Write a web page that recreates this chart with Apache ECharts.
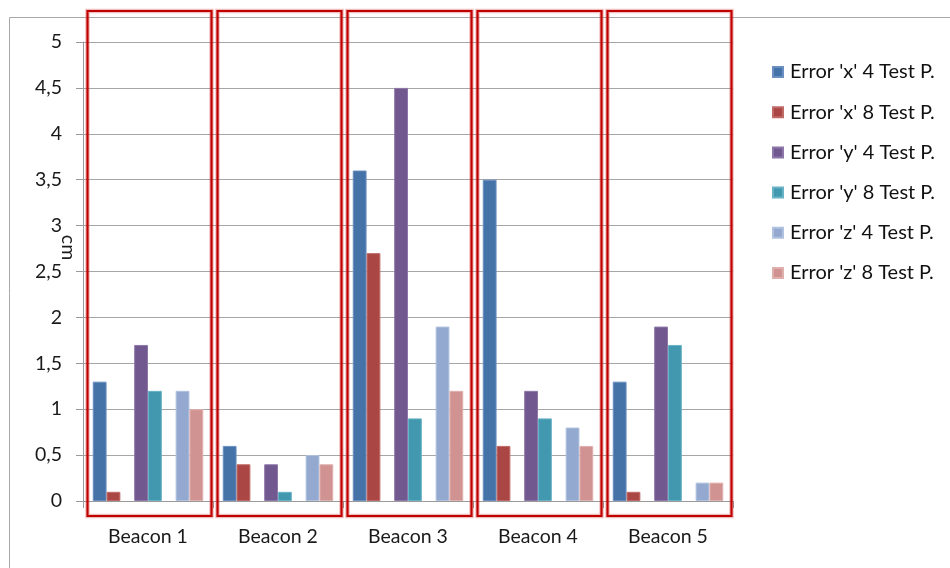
<!DOCTYPE html>
<html>
<head>
<meta charset="utf-8">
<style>
  html, body { margin: 0; padding: 0; background: #fff; }
  #chart { width: 950px; height: 568px; }
</style>
<script src="https://cdn.jsdelivr.net/npm/echarts@6/dist/echarts.min.js"></script>
</head>
<body>
<div id="chart"></div>
<script>
// Beacon positioning error per axis, 4 vs 8 test points (cm)
const categories = ['Beacon 1', 'Beacon 2', 'Beacon 3', 'Beacon 4', 'Beacon 5'];
const seriesNames = [
  "Error 'x' 4 Test P.", "Error 'x' 8 Test P.",
  "Error 'y' 4 Test P.", "Error 'y' 8 Test P.",
  "Error 'z' 4 Test P.", "Error 'z' 8 Test P."
];
const errX4 = [1.3, 0.6, 3.6, 3.5, 1.3];
const errX8 = [0.1, 0.4, 2.7, 0.6, 0.1];
const errY4 = [1.7, 0.4, 4.5, 1.2, 1.9];
const errY8 = [1.2, 0.1, 0.9, 0.9, 1.7];
const errZ4 = [1.2, 0.5, 1.9, 0.8, 0.2];
const errZ8 = [1.0, 0.4, 1.2, 0.6, 0.2];
const yTicks = [0, 0.5, 1, 1.5, 2, 2.5, 3, 3.5, 4, 4.5, 5];

const colors = ['#4572A7', '#AA4643', '#71588F', '#4198AF', '#93A9CF', '#D19392'];
const edges  = ['#6b8fc0', '#c06a67', '#8d77a8', '#68b2c6', '#b0c2df', '#e0b0af'];
const FONT = 'Lato, "Open Sans", sans-serif';
const FS = 19.5;

function barSeries(idx, values) {
  return {
    name: seriesNames[idx], type: 'bar', data: values,
    itemStyle: { color: colors[idx], borderColor: edges[idx], borderWidth: 1 }
  };
}
// empty slot between the x / y / z pairs
function spacer(id) {
  return { name: id, type: 'bar', data: categories.map(() => null), silent: true };
}

const chart = echarts.init(document.getElementById('chart'), null, { renderer: 'canvas' });

const option = {
  animation: false,
  color: colors,
  grid: { left: 83, right: 217, top: 42, bottom: 67 },
  legend: {
    data: seriesNames,
    orient: 'vertical',
    left: 772, top: 62, padding: 0,
    icon: 'rect', itemWidth: 10, itemHeight: 10, itemGap: 20.2,
    textStyle: { fontFamily: FONT, fontSize: 20, color: '#111', padding: [0, 0, 0, 2], lineHeight: 20 },
    selectedMode: false
  },
  xAxis: {
    type: 'category', data: categories,
    axisLine: { lineStyle: { color: '#9a9a9a' } },
    axisTick: { show: true, length: 7, lineStyle: { color: '#9a9a9a' } },
    axisLabel: { fontFamily: FONT, fontSize: FS, color: '#1a1a1a', margin: 26 }
  },
  yAxis: {
    type: 'value', min: 0, max: 5, interval: 0.5,
    axisLine: { show: true, lineStyle: { color: '#9a9a9a' } },
    axisTick: { show: true, length: 7, lineStyle: { color: '#9a9a9a' } },
    splitLine: { lineStyle: { color: '#a6a6a6' } },
    axisLabel: {
      fontFamily: FONT, fontSize: FS, color: '#1a1a1a', margin: 21,
      formatter: v => yTicks.includes(v) ? String(v).replace('.', ',') : ''
    }
  },
  series: [
    Object.assign(barSeries(0, errX4), { barGap: '0%', barCategoryGap: '15%' }),
    barSeries(1, errX8),
    spacer('gap-xy'),
    barSeries(2, errY4),
    barSeries(3, errY8),
    spacer('gap-yz'),
    barSeries(4, errZ4),
    barSeries(5, errZ8)
  ]
};
chart.setOption(option);

// Outer frame, axis unit and highlight boxes around each beacon group
function drawOverlay() {
  const c0 = chart.convertToPixel({ xAxisIndex: 0 }, 0);
  const c1 = chart.convertToPixel({ xAxisIndex: 0 }, 1);
  const band = c1 - c0;
  const yTop = chart.convertToPixel({ yAxisIndex: 0 }, 5);
  const yZero = chart.convertToPixel({ yAxisIndex: 0 }, 0);
  const boxTop = yTop - 31;
  const boxBottom = yZero + 15;

  const elements = [{
    type: 'rect', silent: true, z: 0,
    shape: { x: 9.5, y: 17.5, width: 1000, height: 600 },
    style: { fill: null, stroke: '#a8a8a8', lineWidth: 1 }
  }, {
    type: 'text', silent: true,
    x: 68, y: (yTop + yZero) / 2 - 24, rotation: -Math.PI / 2,
    style: { text: 'cm', font: FS + 'px ' + FONT, fill: '#1a1a1a', align: 'center', verticalAlign: 'middle' }
  }];

  categories.forEach((cat, i) => {
    const center = chart.convertToPixel({ xAxisIndex: 0 }, i);
    const left = center - band / 2 + 4.5;
    const shape = { x: left, y: boxTop, width: band - 6, height: boxBottom - boxTop };
    elements.push({
      type: 'rect', silent: true, z: 100,
      shape: shape,
      style: { fill: null, stroke: 'rgba(214,70,70,0.35)', lineWidth: 4.5 }
    });
    elements.push({
      type: 'rect', silent: true, z: 101,
      shape: shape,
      style: { fill: null, stroke: '#C00000', lineWidth: 2.2 }
    });
  });
  chart.setOption({ graphic: elements });
}
drawOverlay();
</script>
</body>
</html>
